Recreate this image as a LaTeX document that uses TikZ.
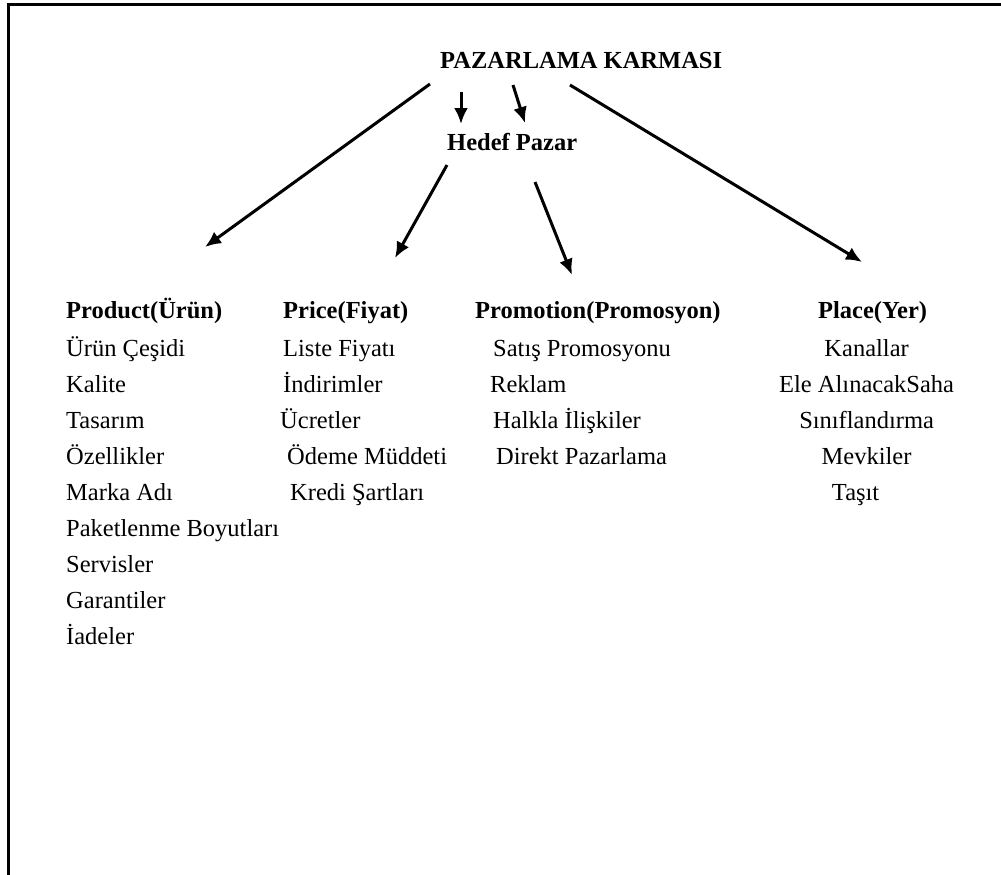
\documentclass[tikz,border=0pt]{standalone}
\usepackage{fontspec}
\setmainfont{Liberation Serif}
\usetikzlibrary{arrows.meta}

\tikzstyle{head} = [anchor=base west, inner sep=0pt, font=\fontsize{24.5}{29}\selectfont\bfseries]
\tikzstyle{item} = [anchor=base west, inner sep=0pt, font=\fontsize{24.5}{29}\selectfont]
\tikzstyle{arrow} = [draw, line width=3pt, -{Latex[length=16pt,width=14pt]}]
\tikzstyle{line} = [draw, line width=2.2pt]

\begin{document}
\begin{tikzpicture}[x=1pt, y=-1pt]
    \useasboundingbox (0,0) rectangle (1001,875);
    \draw[line] (8.5,876) -- (8.5,4.5) -- (1002,4.5);

    \node[head] (karma) at (440,69) {PAZARLAMA KARMASI};
    \node[head] (hedef) at (447,150) {Hedef Pazar};

    % Product
    \node[head] (product) at (66,318) {Product(Ürün)};
    \node[item] (urun) at ([yshift=-38pt]product.base west) {Ürün Çeşidi};
    \node[item] (kalite) at ([yshift=-36pt]urun.base west) {Kalite};
    \node[item] (tasarim) at ([yshift=-36pt]kalite.base west) {Tasarım};
    \node[item] (ozellik) at ([yshift=-36pt]tasarim.base west) {Özellikler};
    \node[item] (marka) at ([yshift=-36pt]ozellik.base west) {Marka Adı};
    \node[item] (paket) at ([yshift=-36pt]marka.base west) {Paketlenme Boyutları};
    \node[item] (servis) at ([yshift=-36pt]paket.base west) {Servisler};
    \node[item] (garanti) at ([yshift=-36pt]servis.base west) {Garantiler};
    \node[item] (iade) at ([yshift=-36pt]garanti.base west) {İadeler};

    % Price
    \node[head] (price) at (283,318) {Price(Fiyat)};
    \node[item] (liste) at ([yshift=-38pt]price.base west) {Liste Fiyatı};
    \node[item] (indirim) at ([yshift=-36pt]liste.base west) {İndirimler};
    \node[item] (ucret) at ([xshift=-3pt, yshift=-36pt]indirim.base west) {Ücretler};
    \node[item] (odeme) at ([xshift=7pt, yshift=-36pt]ucret.base west) {Ödeme Müddeti};
    \node[item] (kredi) at ([xshift=3pt, yshift=-36pt]odeme.base west) {Kredi Şartları};

    % Promotion
    \node[head] (promotion) at (475,318) {Promotion(Promosyon)};
    \node[item] (satis) at ([xshift=18pt, yshift=-38pt]promotion.base west) {Satış Promosyonu};
    \node[item] (reklam) at ([xshift=-3pt, yshift=-36pt]satis.base west) {Reklam};
    \node[item] (halkla) at ([xshift=3pt, yshift=-36pt]reklam.base west) {Halkla İlişkiler};
    \node[item] (direkt) at ([xshift=3pt, yshift=-36pt]halkla.base west) {Direkt Pazarlama};

    % Place
    \node[head] (place) at (818,318) {Place(Yer)};
    \node[item, anchor=base] (kanal) at ([xshift=-6pt, yshift=-38pt]place.base) {Kanallar};
    \node[item, anchor=base] (saha) at ([yshift=-36pt]kanal.base) {Ele AlınacakSaha};
    \node[item, anchor=base] (sinif) at ([yshift=-36pt]saha.base) {Sınıflandırma};
    \node[item, anchor=base] (mevki) at ([yshift=-36pt]sinif.base) {Mevkiler};
    \node[item, anchor=base] (tasit) at ([xshift=-11pt, yshift=-36pt]mevki.base) {Taşıt};

    % arrows
    \draw[arrow] ([shift={(-10pt,-15pt)}]karma.base west) -- ([shift={(139pt,71pt)}]product.base west);
    \draw[arrow] ([shift={(21pt,-23pt)}]karma.base west) -- ([shift={(14pt,26pt)}]hedef.base west);
    \draw[arrow] ([shift={(73pt,-16pt)}]karma.base west) -- ([shift={(78pt,27pt)}]hedef.base west);
    \draw[arrow] ([shift={(130pt,-16pt)}]karma.base west) -- ([shift={(44pt,56pt)}]place.base west);
    \draw[arrow] ([shift={(0pt,-15pt)}]hedef.base west) -- ([shift={(112pt,60pt)}]price.base west);
    \draw[arrow] ([shift={(88pt,-32pt)}]hedef.base west) -- ([shift={(97pt,43pt)}]promotion.base west);
\end{tikzpicture}
\end{document}
